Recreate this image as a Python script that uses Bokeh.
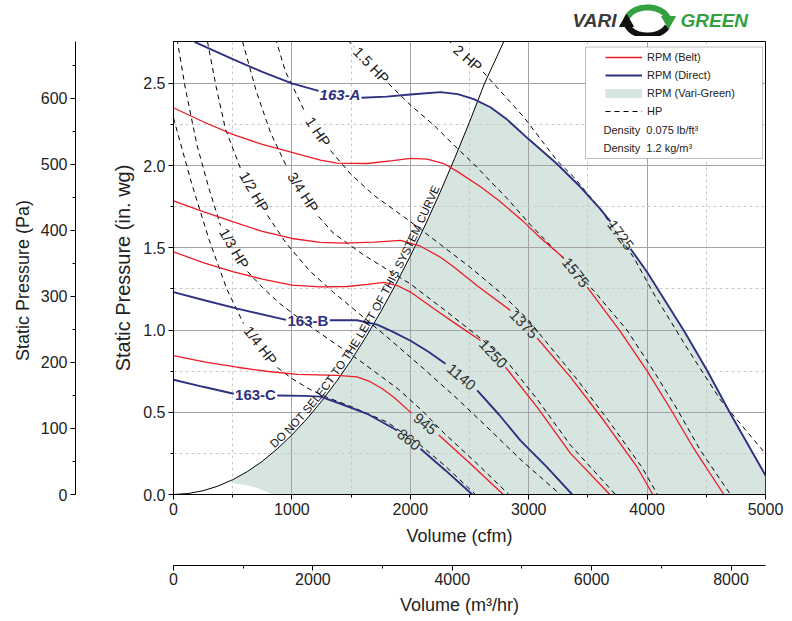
import math
import numpy as np
from bokeh.plotting import figure
from bokeh.layouts import column
from bokeh.models import (Range1d, LinearAxis, FixedTicker, Legend, LegendItem,
                          BoxAnnotation, Label, PrintfTickFormatter)
from bokeh.core.properties import value
from bokeh.embed import file_html
from bokeh.resources import INLINE

NaN = float("nan")
FONT = "Liberation Sans"
NBSP = "\u00a0"

# ---------------- axes / units ----------------
cfm_max = 5000
inwg_max = 2.755
pa_per_inwg = 249.089
m3h_per_cfm = 1.69901

cfm_ticks = [0, 1000, 2000, 3000, 4000, 5000]
cfm_minor = [500, 1500, 2500, 3500, 4500]
inwg_ticks = [0.0, 0.5, 1.0, 1.5, 2.0, 2.5]
inwg_minor = [0.25, 0.75, 1.25, 1.75, 2.25]
pa_ticks = [0, 100, 200, 300, 400, 500, 600]
pa_minor = [50, 150, 250, 350, 450, 550, 650]
m3h_ticks = [0, 2000, 4000, 6000, 8000]
m3h_minor = [1000, 3000, 5000, 7000]

# ---------------- fan curves (cfm, in. wg); NaN = gap holding a label ----------------
rpm1725_x = [0, 186, 500, 750, 1000, 1225, NaN, 1588, 1800, 2000, 2255, 2400, 2536, 2677, 2818, 3001, 3240, 3437, 3600, 3691, NaN, 3860, 4001, 4310, 4507, 4704, 5000]
rpm1725_y = [2.84, 2.75, 2.648, 2.57, 2.5, 2.455, NaN, 2.413, 2.42, 2.433, 2.447, 2.435, 2.405, 2.355, 2.28, 2.16, 2.01, 1.87, 1.74, 1.66, NaN, 1.495, 1.352, 0.998, 0.754, 0.491, 0.116]
rpm1725_labels = ["163-A", "1725"]

rpm1575_x = [0, 250, 500, 750, 1000, 1241, 1382, 1636, 1850, 2002, 2142, 2283, 2396, 2593, 2748, 2945, 3100, 3297, NaN, 3494, 3775, 4001, 4198, 4394, 4648]
rpm1575_y = [2.352, 2.267, 2.19, 2.129, 2.08, 2.034, 2.015, 2.013, 2.03, 2.044, 2.04, 2.013, 1.965, 1.872, 1.788, 1.667, 1.56, 1.438, NaN, 1.261, 0.99, 0.75, 0.52, 0.28, 0.0]
rpm1575_labels = ["1575"]

rpm1375_x = [0, 250, 500, 750, 1000, 1241, 1438, 1700, 1917, 2086, 2255, 2368, 2565, 2846, NaN, 3071, 3353, 3634, 3916, 4048]
rpm1375_y = [1.786, 1.72, 1.659, 1.60, 1.557, 1.533, 1.529, 1.535, 1.545, 1.51, 1.443, 1.383, 1.27, 1.119, NaN, 0.952, 0.714, 0.45, 0.166, 0.0]
rpm1375_labels = ["1375"]

rpm1250_x = [0, 250, 500, 750, 1000, 1241, 1467, 1640, 1776, 1889, 2002, 2200, 2400, 2593, NaN, 2804, 3071, 3353, 3685]
rpm1250_y = [1.476, 1.41, 1.355, 1.31, 1.273, 1.263, 1.265, 1.278, 1.29, 1.271, 1.231, 1.13, 1.03, 0.937, NaN, 0.774, 0.531, 0.25, 0.0]
rpm1250_labels = ["1250"]

rpm1140_x = [0, 269, 538, 950, NaN, 1320, 1551, 1720, 1850, 2002, 2150, 2297, NaN, 2565, 2750, 2931, 3150, 3367]
rpm1140_y = [1.231, 1.18, 1.13, 1.062, NaN, 1.06, 1.06, 1.033, 0.99, 0.935, 0.87, 0.795, NaN, 0.633, 0.485, 0.328, 0.17, 0.0]
rpm1140_labels = ["163-B", "1140"]

rpm945_x = [0, 269, 538, 800, 1045, 1382, 1550, 1650, 1761, 1861, 2010, NaN, 2240, 2508, 2785]
rpm945_y = [0.845, 0.805, 0.774, 0.748, 0.73, 0.724, 0.715, 0.69, 0.645, 0.592, 0.495, NaN, 0.362, 0.187, 0.0]
rpm945_labels = ["945"]

rpm860_x = [0, 250, 509, NaN, 876, 1101, 1241, 1410, 1636, 1889, NaN, 2086, 2300, 2523]
rpm860_y = [0.698, 0.655, 0.613, NaN, 0.602, 0.6, 0.595, 0.552, 0.491, 0.389, NaN, 0.278, 0.145, 0.0]
rpm860_labels = ["163-C", "860"]

belt_curves = [(rpm1575_x, rpm1575_y, rpm1575_labels), (rpm1375_x, rpm1375_y, rpm1375_labels),
               (rpm1250_x, rpm1250_y, rpm1250_labels), (rpm945_x, rpm945_y, rpm945_labels)]
direct_curves = [(rpm1725_x, rpm1725_y, rpm1725_labels), (rpm1140_x, rpm1140_y, rpm1140_labels),
                 (rpm860_x, rpm860_y, rpm860_labels)]

# ---------------- horsepower lines ----------------
hp_quarter_x = [0, 150, 300, 450, 591, NaN, 878, 1000, 1150, 1300, 1500, 1805, 2086, 2300, 2550]
hp_quarter_y = [2.29, 1.90, 1.55, 1.25, 1.04, NaN, 0.772, 0.705, 0.64, 0.59, 0.535, 0.44, 0.30, 0.17, 0.0]
hp_third_x = [30, 100, 200, 300, 397, NaN, 625, 750, 900, 1100, 1300, 1600, 1900, 2100, 2290, 2560, 2832]
hp_third_y = [2.77, 2.47, 2.12, 1.86, 1.636, NaN, 1.356, 1.26, 1.16, 1.05, 0.95, 0.80, 0.64, 0.51, 0.37, 0.19, 0.0]
hp_half_x = [287, 360, 440, 566, NaN, 794, 950, 1150, 1350, 1551, 1800, 2113, 2400, 2648, 2950, 3268]
hp_half_y = [2.755, 2.48, 2.22, 1.983, NaN, 1.697, 1.53, 1.36, 1.23, 1.11, 0.96, 0.765, 0.58, 0.41, 0.20, 0.0]
hp_3q_x = [583, 700, 820, 963, NaN, 1225, 1350, 1600, 1800, 2002, 2311, 2593, 2804, 3071, 3353, 3733]
hp_3q_y = [2.755, 2.45, 2.20, 1.983, NaN, 1.691, 1.59, 1.46, 1.37, 1.28, 1.11, 0.95, 0.82, 0.58, 0.30, 0.0]
hp_1_x = [850, 870, 946, 1002, 1115, NaN, 1326, 1495, 1692, 2002, 2255, 2500, 2750, 3000, 3111, 3393, 3674, 3956, 4088]
hp_1_y = [2.77, 2.754, 2.571, 2.49, 2.318, NaN, 2.092, 1.95, 1.82, 1.659, 1.52, 1.385, 1.235, 1.06, 0.96, 0.714, 0.45, 0.166, 0.0]
hp_15_x = [1480, 1495, 1525, NaN, 1815, 2002, 2199, 2368, 2536, 2818, 3015, 3300, 3549, 3830, 4056, 4253, 4449, 4704]
hp_15_y = [2.77, 2.743, 2.72, NaN, 2.5, 2.368, 2.246, 2.125, 2.01, 1.80, 1.64, 1.43, 1.24, 1.0, 0.75, 0.52, 0.27, 0.0]
hp_2_x = [2320, 2355, NaN, 2615, 2705, 2959, 3240, 3381, 3600, 3888, 4057, 4338, 4620, 5000]
hp_2_y = [2.77, 2.735, NaN, 2.57, 2.498, 2.295, 2.03, 1.93, 1.74, 1.44, 1.22, 0.89, 0.575, 0.248]
hp_lines = [(hp_quarter_x, hp_quarter_y, "1/4 HP"), (hp_third_x, hp_third_y, "1/3 HP"),
            (hp_half_x, hp_half_y, "1/2 HP"), (hp_3q_x, hp_3q_y, "3/4 HP"),
            (hp_1_x, hp_1_y, "1 HP"), (hp_15_x, hp_15_y, "1.5 HP"), (hp_2_x, hp_2_y, "2 HP")]

# ---------------- system curve and Vari-Green region ----------------
sys_x = [0, 125, 250, 375, 500, 625, 750, 875, 1000, 1125, 1250, 1375, 1500, 1625, 1750, 1875, 2000, 2125, 2250, 2375, 2500, 2625, 2790]
sys_y = [0, 0.006, 0.023, 0.051, 0.09, 0.14, 0.202, 0.277, 0.362, 0.459, 0.567, 0.686, 0.816, 0.958, 1.111, 1.275, 1.45, 1.637, 1.835, 2.045, 2.265, 2.497, 2.755]
sys_text = "DO NOT SELECT TO THE LEFT OF THIS SYSTEM CURVE"
sys_text_start = 865
vg_min_x = 500
vg_edge_x = [830, 780, 700, 600, 500]
vg_edge_y = [0.0, 0.018, 0.042, 0.06, 0.068]

# ---------------- colours ----------------
RED = "#ec1c24"
NAVY = "#2e3180"
GREEN_FILL = "#d6e5e0"
LOGO_GREEN = "#35a040"

# ---------------- layout ----------------
PAGE_W = 792
LOGO_H = 36
FRAME_W, FRAME_H = 592, 453
FRAME_LEFT_PX, FRAME_TOP_PX = 173, 41
FRAME_RIGHT_BORDER = PAGE_W - FRAME_LEFT_PX - FRAME_W
FRAME_BOTTOM_PX = FRAME_TOP_PX + FRAME_H
SX = FRAME_W / cfm_max
SY = FRAME_H / inwg_max


def px_x(px):
    return (px - FRAME_LEFT_PX) / SX


def px_y(py):
    return (FRAME_BOTTOM_PX - py) / SY


p = figure(frame_width=FRAME_W, frame_height=FRAME_H,
           x_range=Range1d(0, cfm_max), y_range=Range1d(0, inwg_max),
           output_backend="svg", toolbar_location=None,
           min_border_left=FRAME_LEFT_PX, min_border_right=FRAME_RIGHT_BORDER,
           min_border_top=FRAME_TOP_PX - LOGO_H, min_border_bottom=125)
p.background_fill_color = "white"
p.border_fill_color = "white"
p.outline_line_color = "black"
p.outline_line_width = 1

p.extra_y_ranges = {"pa": Range1d(0, inwg_max * pa_per_inwg)}
p.extra_x_ranges = {"m3h": Range1d(0, cfm_max * m3h_per_cfm)}


def style_axis(ax, label, ticks, minor, lab_standoff, axlab_standoff, lab_size="18px"):
    ax.axis_label = label
    ax.ticker = FixedTicker(ticks=ticks, minor_ticks=minor)
    ax.axis_label_text_font = FONT
    ax.axis_label_text_font_size = lab_size
    ax.axis_label_text_font_style = "normal"
    ax.axis_label_text_color = "#222222"
    ax.axis_label_standoff = axlab_standoff
    ax.major_label_text_font = FONT
    ax.major_label_text_font_size = "16px"
    ax.major_label_text_color = "#222222"
    ax.major_label_standoff = lab_standoff
    ax.major_tick_in = 0
    ax.major_tick_out = 5
    ax.minor_tick_in = 0
    ax.minor_tick_out = 3
    ax.axis_line_color = "black"
    ax.major_tick_line_color = "black"
    ax.minor_tick_line_color = "black"


def spacer(size, **kw):
    return LinearAxis(ticker=FixedTicker(ticks=[], minor_ticks=[]), axis_line_color=None,
                      major_tick_line_color=None, minor_tick_line_color=None,
                      major_tick_in=0, major_tick_out=0, minor_tick_out=0,
                      major_label_standoff=0, axis_label=NBSP, axis_label_text_font_size="1px",
                      axis_label_standoff=size, **kw)


yax = p.yaxis[0]
style_axis(yax, "Static Pressure (in. wg)", inwg_ticks, inwg_minor, 3, 6, "20px")
yax.formatter = PrintfTickFormatter(format="%.1f")
p.add_layout(spacer(30, y_range_name="pa"), "left")
pa_axis = LinearAxis(y_range_name="pa")
style_axis(pa_axis, "Static Pressure (Pa)" + NBSP * 5, pa_ticks, pa_minor, 3, 5, "18px")
p.add_layout(pa_axis, "left")

xax = p.xaxis[0]
style_axis(xax, "Volume (cfm)" + NBSP * 4, cfm_ticks, cfm_minor, 3, 8)
p.add_layout(spacer(13, x_range_name="m3h"), "below")
m3_axis = LinearAxis(x_range_name="m3h")
style_axis(m3_axis, "Volume (m³/hr)" + NBSP * 4, m3h_ticks, m3h_minor, 2, 7)
p.add_layout(m3_axis, "below")

p.xgrid.ticker = FixedTicker(ticks=cfm_ticks, minor_ticks=cfm_minor)
p.ygrid.ticker = FixedTicker(ticks=inwg_ticks, minor_ticks=inwg_minor)
for g in (p.xgrid, p.ygrid):
    g.grid_line_color = "#a3a3a3"
    g.grid_line_width = 1
    g.minor_grid_line_color = "#c9c9c9"
    g.minor_grid_line_dash = "3 3"

# ---------------- Vari-Green region ----------------
top_x = np.array([v for v in rpm1725_x if v == v])
top_y = np.array([v for v in rpm1725_y if v == v])
sx_arr = np.array(sys_x, float)
sy_arr = np.array(sys_y, float)
dense = np.linspace(vg_min_x, sys_x[-1], 4000)
diff = np.interp(dense, sx_arr, sy_arr) - np.interp(dense, top_x, top_y)
x_int = dense[np.argmax(diff >= 0)]
y_int = float(np.interp(x_int, sx_arr, sy_arr))
m_sys = (sx_arr > vg_min_x) & (sx_arr < x_int)
m_top = top_x > x_int
vg_x = ([vg_min_x] + list(sx_arr[m_sys]) + [x_int] + list(top_x[m_top]) + [cfm_max, cfm_max] + vg_edge_x)
vg_y = ([float(np.interp(vg_min_x, sx_arr, sy_arr))] + list(sy_arr[m_sys]) + [y_int] + list(top_y[m_top])
        + [0.0, 0.0] + vg_edge_y)
p.patch(vg_x, vg_y, fill_color=GREEN_FILL, line_color=None, level="image")

# ---------------- system curve ----------------
p.line(sys_x, sys_y, line_color="black", line_width=1)

# ---------------- lines ----------------
hp_renderers = []
for xs, ys, lab in hp_lines:
    hp_renderers.append(p.line(xs, ys, line_color="black", line_width=1, line_dash="5 4"))

belt_r = [p.line(xs, ys, line_color=RED, line_width=1.3) for xs, ys, _ in belt_curves]
direct_r = [p.line(xs, ys, line_color=NAVY, line_width=1.9) for xs, ys, _ in direct_curves]


def gap_labels(xs, ys, texts):
    out = []
    k = 0
    for i, v in enumerate(xs):
        if v != v:
            x1, y1, x2, y2 = xs[i - 1], ys[i - 1], xs[i + 1], ys[i + 1]
            ang = math.atan2((y2 - y1) * SY, (x2 - x1) * SX)
            out.append(((x1 + x2) / 2, (y1 + y2) / 2, texts[k], ang))
            k += 1
    return out


num_lab = []
model_lab = []
for xs, ys, labs in belt_curves + direct_curves:
    for (lx, ly, t, a) in gap_labels(xs, ys, labs):
        if t.startswith("163"):
            model_lab.append((lx, ly, t))
        else:
            num_lab.append((lx, ly, t, a))

p.text(x=[v[0] for v in num_lab], y=[v[1] for v in num_lab], text=[v[2] for v in num_lab],
       angle=[v[3] for v in num_lab], text_align="center", text_baseline="middle",
       text_font=value(FONT), text_font_size="15px", text_color="#333333")

for lx, ly, t in model_lab:
    p.text(x=[lx], y=[ly], text=[t], text_align="center", text_baseline="middle",
           text_font=value(FONT), text_font_size="15px",
           text_font_style="bold italic" if t.endswith("A") else "bold", text_color=NAVY)

hp_lab = []
for xs, ys, t in hp_lines:
    hp_lab += gap_labels(xs, ys, [t])
p.text(x=[v[0] for v in hp_lab], y=[v[1] for v in hp_lab], text=[v[2] for v in hp_lab],
       angle=[v[3] for v in hp_lab], text_align="center", text_baseline="middle",
       text_font=value(FONT), text_font_size="14.5px", text_color="#1a1a1a")

# ---------------- text along the system curve ----------------
ARIAL_W = {'D': 722, 'O': 778, 'N': 722, 'T': 611, 'S': 667, 'E': 667, 'L': 556, 'C': 722,
           'H': 722, 'F': 611, 'I': 278, 'Y': 667, 'M': 833, 'U': 722, 'R': 722, 'V': 667, ' ': 278}
fs = 11.5
xd = np.linspace(sys_x[0], sys_x[-1], 6000)
yd = np.interp(xd, sx_arr, sy_arr)
Xs, Ys = xd * SX, yd * SY
s = np.concatenate([[0], np.cumsum(np.hypot(np.diff(Xs), np.diff(Ys)))])
s0 = float(np.interp(sys_text_start, xd, s))
cx, cy, ca, ct = [], [], [], []
acc = 0.0
for ch in sys_text:
    w = ARIAL_W.get(ch, 650) / 1000.0 * fs
    sc = s0 + acc + w / 2
    acc += w
    if ch == " ":
        continue
    xa, xb = np.interp(sc - 1.5, s, Xs), np.interp(sc + 1.5, s, Xs)
    ya, yb = np.interp(sc - 1.5, s, Ys), np.interp(sc + 1.5, s, Ys)
    cx.append(float(np.interp(sc, s, xd)))
    cy.append(float(np.interp(sc, s, yd)))
    ca.append(math.atan2(yb - ya, xb - xa))
    ct.append(ch)
p.text(x=cx, y=cy, text=ct, angle=ca, text_align="center", text_baseline="bottom",
       text_font=value(FONT), text_font_size="11.5px", text_color="#111111")

# ---------------- legend ----------------
box = BoxAnnotation(left=px_x(585), right=px_x(762), top=px_y(46.5), bottom=px_y(158),
                    fill_color="white", fill_alpha=1.0, line_color="#333333", line_width=1)
p.add_layout(box)

r_vg_key = p.line([NaN], [NaN], line_color=GREEN_FILL, line_width=9)
legend = Legend(items=[LegendItem(label="RPM (Belt)", renderers=[belt_r[0]]),
                       LegendItem(label="RPM (Direct)", renderers=[direct_r[0]]),
                       LegendItem(label="RPM (Vari-Green)", renderers=[r_vg_key]),
                       LegendItem(label="HP", renderers=[hp_renderers[0]])],
                location=(432, 376), orientation="vertical",
                label_text_font=FONT, label_text_font_size="11px", label_text_color="#222222",
                glyph_width=37, glyph_height=14, label_height=14, label_standoff=5,
                spacing=4, padding=0, margin=0, border_line_color=None, background_fill_alpha=0)
p.add_layout(legend)

for txt, py in [("Density" + NBSP * 2 + "0.075 lb/ft³", 129.3), ("Density" + NBSP * 2 + "1.2 kg/m³", 147.3)]:
    p.add_layout(Label(x=px_x(603), y=px_y(py), text=txt, text_font=FONT, text_font_size="11px",
                       text_color="#222222", text_baseline="middle", text_align="left"))

# ---------------- logo strip (its own small figure above the chart, frame aligned with it) -------
# logo coordinates are page pixels (x) and pixels up from the strip bottom (y)
logo = figure(frame_width=FRAME_W, frame_height=LOGO_H,
              x_range=Range1d(FRAME_LEFT_PX, FRAME_LEFT_PX + FRAME_W), y_range=Range1d(0, LOGO_H),
              output_backend="svg", toolbar_location=None, x_axis_type=None, y_axis_type=None,
              min_border_left=FRAME_LEFT_PX, min_border_right=FRAME_RIGHT_BORDER,
              min_border_top=0, min_border_bottom=0, outline_line_color=None)
logo.grid.visible = False
logo_cy = LOGO_H - 20
logo.text(x=[572], y=[logo_cy], text=["VARI"], text_font=value(FONT), text_font_size="19px",
          text_font_style="bold italic", text_color="#3a3a3a", text_baseline="middle", text_align="left")
logo.text(x=[680], y=[logo_cy], text=["GREEN"], text_font=value(FONT), text_font_size="19px",
          text_font_style="bold italic", text_color=LOGO_GREEN, text_baseline="middle", text_align="left")
ring_cx, ring_cy, ring_a, ring_b = 647, LOGO_H - 21, 21, 14
t_top = np.radians(np.linspace(14, 184, 60))
t_bot = np.radians(np.linspace(194, 340, 60))
logo.line(ring_cx + ring_a * np.cos(t_top), ring_cy + ring_b * np.sin(t_top), line_color=LOGO_GREEN,
          line_width=6)
logo.line(ring_cx + ring_a * np.cos(t_bot), ring_cy + ring_b * np.sin(t_bot), line_color="#111111",
          line_width=6)
logo.scatter(x=[ring_cx + ring_a], y=[ring_cy + 1], marker="triangle",
             size=14, angle=math.pi, color=LOGO_GREEN)
logo.scatter(x=[ring_cx - ring_a], y=[ring_cy - 1], marker="triangle",
             size=14, angle=0.0, color="#111111")

layout = column(logo, p, spacing=0)
open("out.html", "w").write(file_html(layout, INLINE))
